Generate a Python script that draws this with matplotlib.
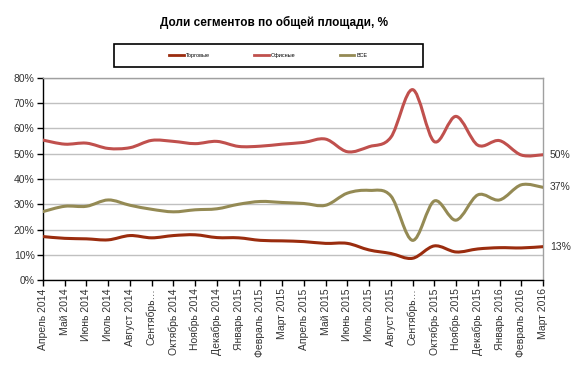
import matplotlib
matplotlib.use("Agg")
import matplotlib.pyplot as plt
from matplotlib.path import Path
from matplotlib.patches import PathPatch, Rectangle
from matplotlib.lines import Line2D
import numpy as np

plt.rcParams['font.family'] = ['Liberation Sans', 'DejaVu Sans']

months = ["Апрель 2014", "Май 2014", "Июнь 2014", "Июль 2014", "Август 2014", "Сентябрь…",
          "Октябрь 2014", "Ноябрь 2014", "Декабрь 2014", "Январь 2015", "Февраль 2015", "Март 2015",
          "Апрель 2015", "Май 2015", "Июнь 2015", "Июль 2015", "Август 2015", "Сентябрь…",
          "Октябрь 2015", "Ноябрь 2015", "Декабрь 2015", "Январь 2016", "Февраль 2016", "Март 2016"]

torgovye = [17.2, 16.5, 16.3, 15.9, 17.6, 16.7, 17.6, 17.9, 16.8, 16.7, 15.7, 15.5,
            15.2, 14.5, 14.5, 11.9, 10.5, 8.6, 13.5, 11.1, 12.3, 12.8, 12.7, 13.2]
ofisnye = [55.4, 53.8, 54.2, 52.1, 52.4, 55.3, 54.9, 54.0, 54.9, 52.9, 53.0, 53.8,
           54.5, 55.8, 50.8, 52.8, 56.5, 75.4, 54.8, 64.8, 53.4, 55.2, 49.5, 49.6]
vse = [27.1, 29.2, 29.2, 31.7, 29.6, 28.0, 27.0, 27.8, 28.2, 30.0, 31.1, 30.7,
       30.3, 29.6, 34.4, 35.5, 33.3, 15.7, 31.3, 23.7, 33.7, 31.7, 37.7, 36.7]

series_names = ["Торговые", "Офисные", "ВСЕ"]
series_colors = ["#9A2C0E", "#C0504D", "#948A54"]
series_values = [torgovye, ofisnye, vse]

yticks = [0, 10, 20, 30, 40, 50, 60, 70, 80]


def smooth_path(xs, ys):
    pts = np.column_stack([xs, ys]).astype(float)
    n = len(pts)
    verts = [pts[0]]
    codes = [Path.MOVETO]
    for i in range(n - 1):
        p0 = pts[i - 1] if i > 0 else pts[i]
        p1 = pts[i]
        p2 = pts[i + 1]
        p3 = pts[i + 2] if i + 2 < n else pts[i + 1]
        c1 = p1 + (p2 - p0) / 6.0
        c2 = p2 - (p3 - p1) / 6.0
        verts += [c1, c2, p2]
        codes += [Path.CURVE4] * 3
    return Path(verts, codes)


fig = plt.figure(figsize=(5.82, 3.70), dpi=100)
ax = fig.add_axes([43 / 582, 1 - 280 / 370, 500 / 582, 202 / 370])

x = np.arange(len(months))
for name, col, vals in zip(series_names, series_colors, series_values):
    patch = PathPatch(smooth_path(x, vals), facecolor='none', edgecolor=col,
                      lw=2.2, capstyle='round', joinstyle='round', zorder=3)
    ax.add_patch(patch)

ax.set_xlim(0, len(months) - 1)
ax.set_ylim(0, 80)
ax.set_yticks(yticks)
ax.set_yticklabels([f"{v}%" for v in yticks])
ax.set_xticks(x)
ax.set_xticklabels(months, rotation=90)
ax.grid(axis='y', color='#C0C0C0', lw=1)
ax.set_axisbelow(True)

for s in ['top', 'right']:
    ax.spines[s].set_color('#A0A0A0')
    ax.spines[s].set_linewidth(1)
for s in ['left', 'bottom']:
    ax.spines[s].set_color('black')
    ax.spines[s].set_linewidth(1)
ax.tick_params(axis='both', direction='out', length=4, width=1, color='black',
               labelsize=7.5, labelcolor='#333333', pad=2)

# End labels
for vals in series_values:
    ax.annotate(f"{round(vals[-1])}%", xy=(x[-1], vals[-1]), xytext=(5, 0),
                textcoords='offset points', fontsize=7.5, color='#333333',
                va='center', ha='left', annotation_clip=False)

fig.text(274 / 582, 1 - 22 / 370, "Доли сегментов по общей площади, %",
         ha='center', va='center', fontsize=8.5, fontweight='bold')

# Legend box and legend
box = Rectangle((114 / 582, 1 - 67 / 370), 309 / 582, 23 / 370,
                transform=fig.transFigure, facecolor='white', edgecolor='black', lw=1.2)
fig.add_artist(box)
handles = [Line2D([], [], color=c, lw=2) for c in series_colors]
leg = fig.legend(handles, series_names, loc='center',
                 bbox_to_anchor=(268.5 / 582, 1 - 55.5 / 370),
                 ncol=3, fontsize=4, frameon=False,
                 handlelength=2.6, handletextpad=0.4, columnspacing=8)

fig.savefig("out.png", dpi=100)
